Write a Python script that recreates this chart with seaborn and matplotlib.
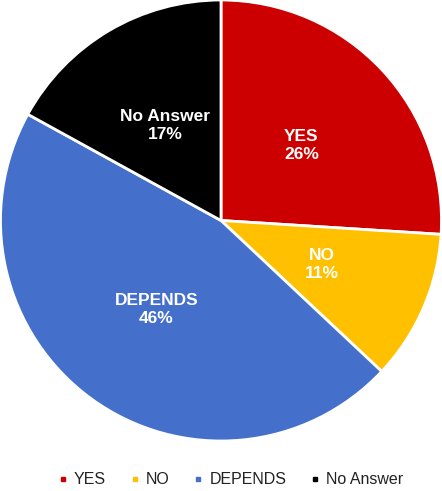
import matplotlib
matplotlib.use("Agg")
import matplotlib.pyplot as plt
import seaborn as sns
from matplotlib.lines import Line2D

categories = ["YES", "NO", "DEPENDS", "No Answer"]
values = [26, 11, 46, 17]
colors = ["#cc0000", "#ffc000", "#4470cc", "#000000"]

sns.set_theme(style="white")
plt.rcParams['font.family'] = ['Liberation Sans', 'DejaVu Sans']
palette = sns.color_palette(colors)

fig = plt.figure(figsize=(4.42, 4.91), dpi=100)
ax = fig.add_axes([0, 50/491, 1, 441/491])
wedges, texts = ax.pie(values, colors=palette, startangle=90, counterclock=False,
                       radius=1.0, labels=[f"{c}\n{v}%" for c, v in zip(categories, values)],
                       labeldistance=0.5,
                       wedgeprops=dict(edgecolor="white", linewidth=2),
                       textprops=dict(color="white", fontsize=12.5, fontweight="bold",
                                      ha="center", va="center", linespacing=1.25))
ax.set_xlim(-1.0, 1.0)
ax.set_ylim(-1.0, 1.0)
ax.set_aspect("equal")
ax.axis("off")

handles = [Line2D([0], [0], marker="s", linestyle="none", markersize=2.5,
                  markerfacecolor=c, markeredgecolor=c) for c in palette]
fig.legend(handles, categories, loc="center", bbox_to_anchor=(0.52, 1 - 480/491),
           ncol=4, frameon=False, fontsize=11.5, handletextpad=0.3, columnspacing=1.4,
           handlelength=0.8, labelcolor="#222222")

fig.savefig("out.png", dpi=100)
